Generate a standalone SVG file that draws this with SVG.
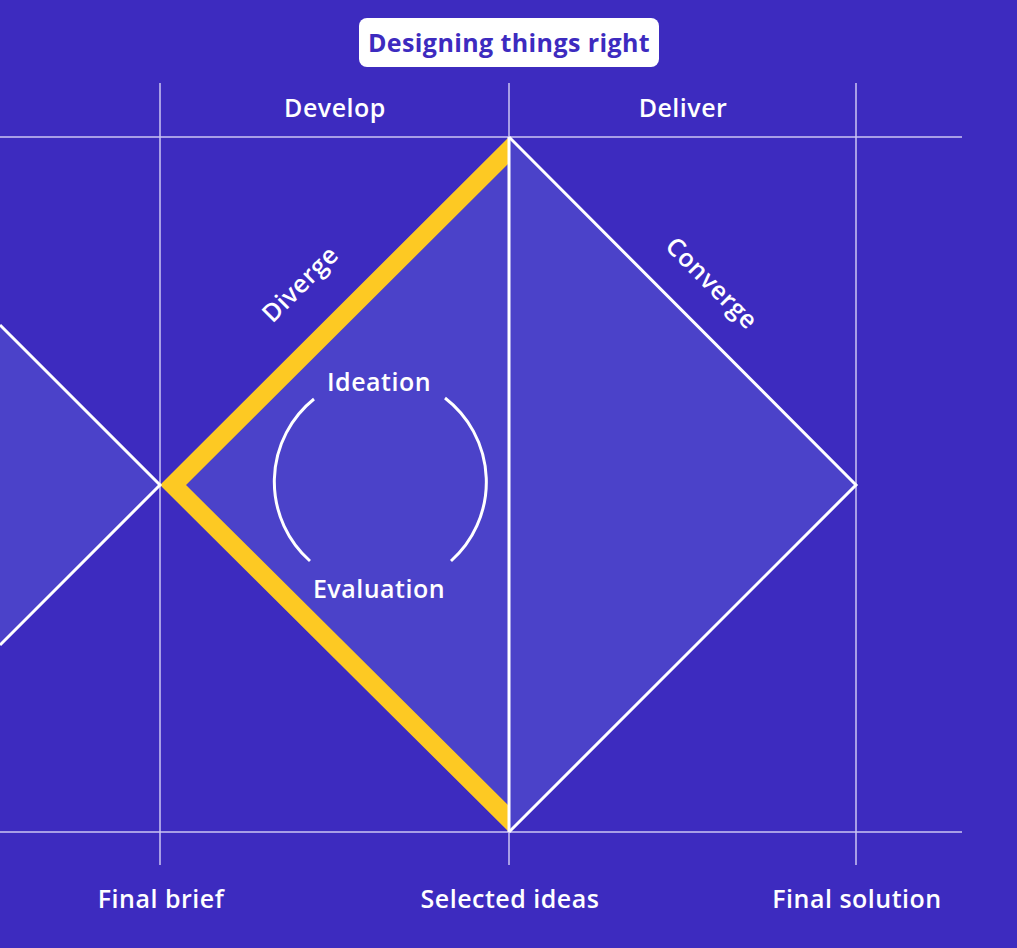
<svg xmlns="http://www.w3.org/2000/svg" width="1017" height="948" viewBox="0 0 1017 948">
<style>
.grid{stroke:#cdc6f3;stroke-width:1.5;fill:none}
.edge{stroke:#ffffff;stroke-width:3;fill:none;stroke-linejoin:miter}
.fill{fill:#4b42c9}
.lbl{font-family:"Open Sans",Lato,"Liberation Sans",sans-serif;font-weight:600;fill:#ffffff;font-size:25px;letter-spacing:0.5px;text-anchor:middle}
.title{font-family:"Open Sans",Lato,"Liberation Sans",sans-serif;font-weight:700;fill:#3d2bbf;font-size:25px;letter-spacing:0.4px;text-anchor:middle}
</style>
<rect x="0" y="0" width="1017" height="948" fill="#3d2bbf"/>
<g id="shapes">
<polygon class="fill" points="0,325 160,485 0,645"/>
<polygon class="fill" points="509,137 160,485 509,832"/>
<polygon class="fill" points="509,137 856,485 509,832"/>
</g>
<g id="connectors">
<line class="grid" x1="0" y1="137" x2="962" y2="137"/>
<line class="grid" x1="0" y1="832" x2="962" y2="832"/>
<line class="grid" x1="160" y1="83" x2="160" y2="865"/>
<line class="grid" x1="509" y1="83" x2="509" y2="865"/>
<line class="grid" x1="856" y1="83" x2="856" y2="865"/>
<path id="diverge-band" d="M509,137 L160,485 L509,832 L509,806 L186,485 L509,163 Z" fill="#fdc923"/>
<polyline class="edge" points="0,325 160,485 0,645"/>
<polyline class="edge" points="509,137 856,485 509,832"/>
<line class="edge" x1="509" y1="137" x2="509" y2="832"/>
<path class="edge" d="M314,399 A106,106 0 0 0 310,561"/>
<path class="edge" d="M445,398 A106,106 0 0 1 451,561"/>
</g>
<g id="title">
<rect x="359" y="18" width="300" height="49" rx="8" fill="#ffffff"/>
<text class="title" x="509" y="52">Designing things right</text>
</g>
<g id="develop"><text class="lbl" x="335" y="117">Develop</text></g>
<g id="deliver"><text class="lbl" x="683" y="117">Deliver</text></g>
<g id="diverge"><text class="lbl" transform="translate(302,286) rotate(-45)" x="0" y="6">Diverge</text></g>
<g id="converge"><text class="lbl" transform="translate(710,285) rotate(45)" x="0" y="6">Converge</text></g>
<g id="ideation"><text class="lbl" x="379" y="391">Ideation</text></g>
<g id="evaluation"><text class="lbl" x="379" y="598">Evaluation</text></g>
<g id="final-brief"><text class="lbl" x="161" y="908">Final brief</text></g>
<g id="selected-ideas"><text class="lbl" x="510" y="908">Selected ideas</text></g>
<g id="final-solution"><text class="lbl" x="857" y="908">Final solution</text></g>
</svg>
